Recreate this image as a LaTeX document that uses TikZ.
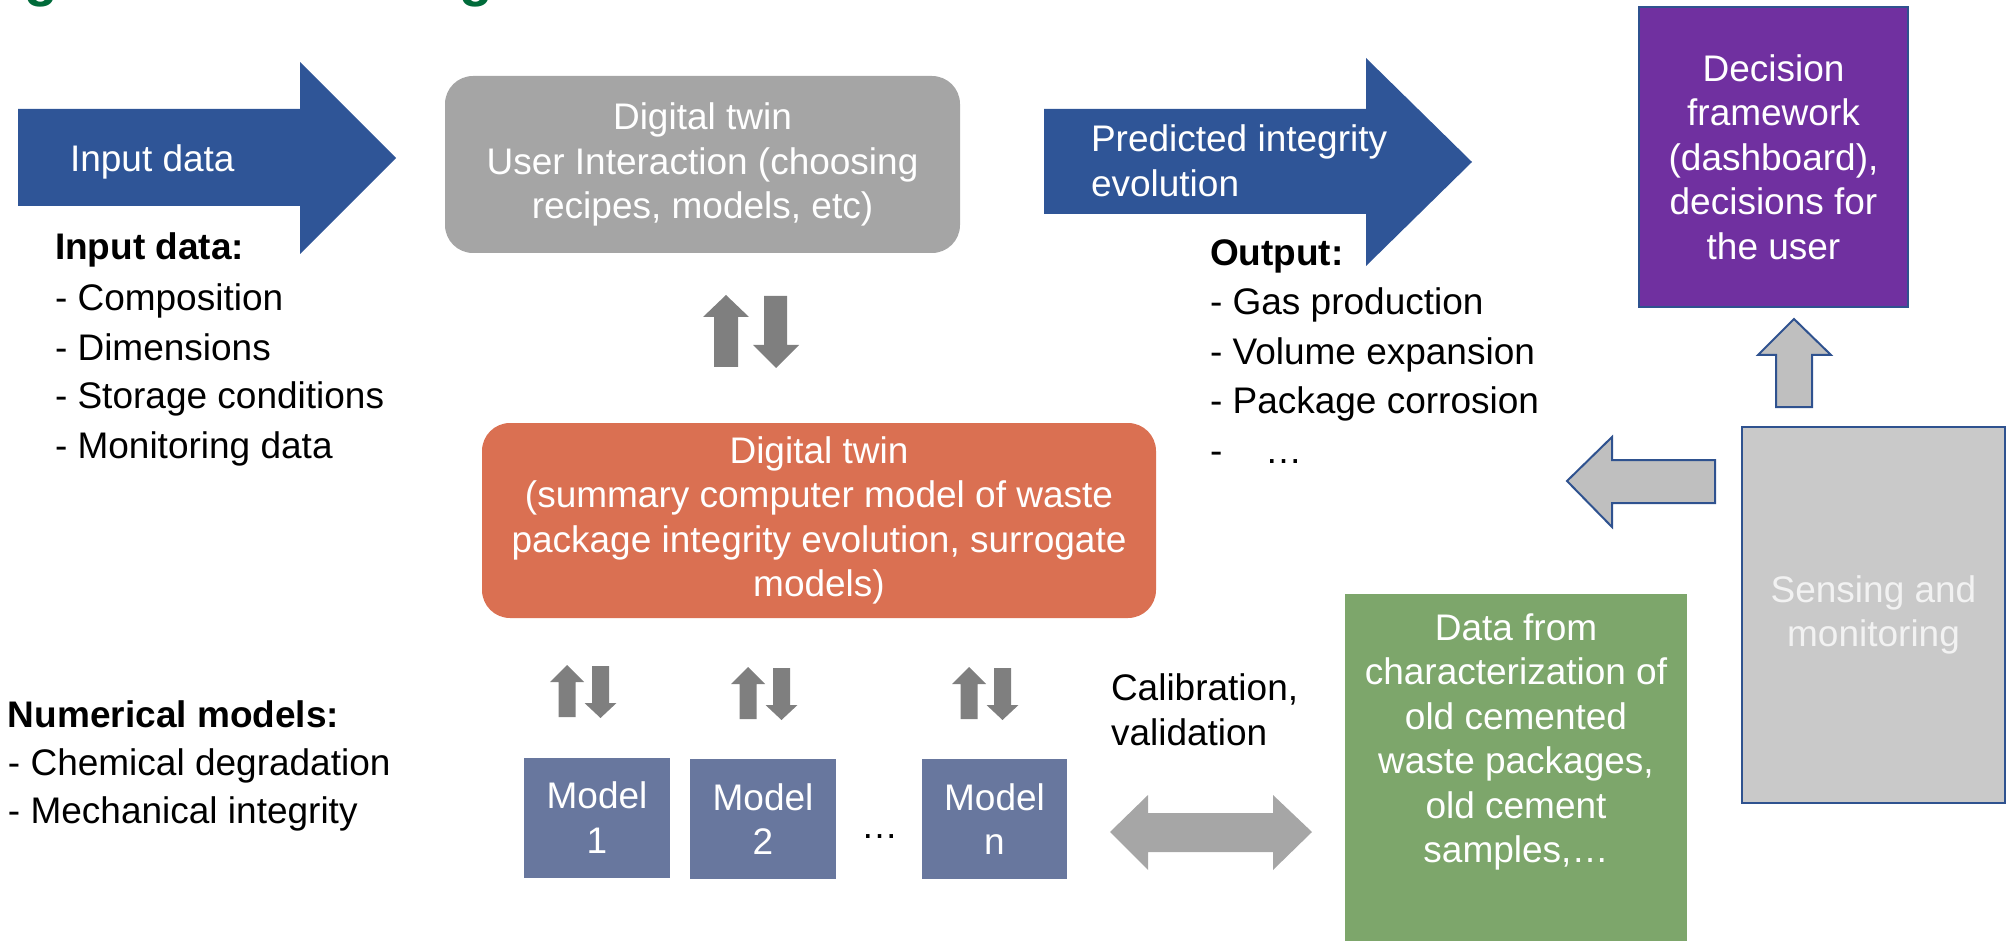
\documentclass[tikz,border=0pt]{standalone}
\usepackage{fontspec}
\setmainfont{Liberation Sans}
\definecolor{arrowblue}{HTML}{2F5597}
\definecolor{edgeblue}{HTML}{2F528F}
\definecolor{uigrey}{HTML}{A5A5A5}
\definecolor{darkgrey}{HTML}{7F7F7F}
\definecolor{twinorange}{HTML}{DA7052}
\definecolor{decpurple}{HTML}{7030A0}
\definecolor{lightgrey}{HTML}{BFBFBF}
\definecolor{sensegrey}{HTML}{C9C9C9}
\definecolor{modelblue}{HTML}{68779E}
\definecolor{dblgrey}{HTML}{A6A6A6}
\definecolor{datagreen}{HTML}{7DA66B}
\definecolor{titlegreen}{HTML}{006B3A}
\begin{document}
\begin{tikzpicture}[x=1pt,y=-1pt,
  every node/.style={inner sep=0pt, outer sep=0pt, font=\fontsize{37}{44.5}\selectfont},
  listline/.style={anchor=base west, text=black},
  boldline/.style={listline, font=\bfseries\fontsize{37}{44.5}\selectfont},
  boxtext/.style={align=center, text=white},
  bigarrow/.style={fill=arrowblue, draw=none},
  darkarrow/.style={fill=darkgrey, draw=none},
  outlinearrow/.style={fill=lightgrey, draw=edgeblue, line width=2pt, line join=miter},
  modelbox/.style={fill=modelblue, minimum width=146pt, minimum height=120pt, boxtext},
  updownpair/.pic={
    \fill[darkgrey] (-8.5,52) -- (-8.5,17) -- (-17,17) -- (0,0) -- (17,17) -- (8.5,17) -- (8.5,52) -- cycle;
    \fill[darkgrey] (25,1) -- (42,1) -- (42,38) -- (49.5,38) -- (33.5,53) -- (17.5,38) -- (25,38) -- cycle;
  }
]
\useasboundingbox (0,0) rectangle (2006,941);

% title fragments (clipped at the top edge, as in the reference)
\begin{scope}
\clip (0,0) rectangle (2006,941);
\node[anchor=base west, text=titlegreen, font=\bfseries\fontsize{55}{60}\selectfont] (tg1) at (24,-4.5) {g};
\node[anchor=base west, text=titlegreen, font=\bfseries\fontsize{55}{60}\selectfont] (tg2) at (459,-4.5) {g};
\end{scope}

% Input data arrow
\fill[bigarrow] (18,109) -- (300,109) -- (300,62) -- (396,158) -- (300,254) -- (300,206) -- (18,206) -- cycle;
\node[anchor=base west, text=white] (inlabel) at (70,172) {Input data};

% Input data list
\node[boldline] (in0) at (55,260) {Input data:};
\node[listline] (in1) at (55,311) {- Composition};
\node[listline] (in2) at (55,360) {- Dimensions};
\node[listline] (in3) at (55,408) {- Storage conditions};
\node[listline] (in4) at (55,458) {- Monitoring data};

% Digital twin user interaction box
\node[fill=uigrey, rounded corners=28pt, minimum width=515pt, minimum height=177pt, boxtext] (ui) at (702.5,164.5)
  {Digital twin\\User Interaction (choosing\\recipes, models, etc)};

% big up/down pair
\fill[darkarrow] (714,367) -- (714,317) -- (703,317) -- (726,295) -- (749,317) -- (738,317) -- (738,367) -- cycle;
\fill[darkarrow] (764,296) -- (787,296) -- (787,345) -- (799,345) -- (776,368) -- (753,345) -- (764,345) -- cycle;

% Digital twin model box
\node[fill=twinorange, rounded corners=28pt, minimum width=674pt, minimum height=195pt, boxtext] (twin) at (819,520.5)
  {Digital twin\\(summary computer model of waste\\package integrity evolution, surrogate\\models)};

% Predicted integrity arrow
\fill[bigarrow] (1044,109) -- (1366,109) -- (1366,58) -- (1472,162) -- (1366,266) -- (1366,214) -- (1044,214) -- cycle;
\node[anchor=base west, text=white] (pred1) at (1091,152) {Predicted integrity};
\node[anchor=base west, text=white] (pred2) at (1091,197) {evolution};

% Output list
\node[boldline] (out0) at (1210,266) {Output:};
\node[listline] (out1) at (1210,315) {- Gas production};
\node[listline] (out2) at (1210,364) {- Volume expansion};
\node[listline] (out3) at (1210,413) {- Package corrosion};
\node[listline] (out4) at (1210,463) {-};
\node[listline] (out4b) at (1265,463) {…};

% Decision framework
\node[fill=decpurple, draw=edgeblue, line width=1.5pt, minimum width=269pt, minimum height=300pt, boxtext] (dec) at (1773.5,157)
  {Decision\\framework\\(dashboard),\\decisions for\\the user};

% up arrow sensing -> decision
\draw[outlinearrow] (1776,407) -- (1776,355) -- (1758,355) -- (1794,319) -- (1831,355) -- (1812,355) -- (1812,407) -- cycle;

% Sensing and monitoring
\node[fill=sensegrey, draw=edgeblue, line width=2pt, minimum width=263pt, minimum height=376pt, align=center, text=white!95!black] (sense) at (1873.5,615)
  {Sensing and\\monitoring};

% left arrow sensing -> output
\draw[outlinearrow] (1715,460) -- (1612,460) -- (1612,437) -- (1567,481) -- (1612,527) -- (1612,503) -- (1715,503) -- cycle;

% small up/down pairs
\pic at (567,665) {updownpair};
\pic at (748,667) {updownpair};
\pic at (969,667) {updownpair};

% Numerical models list
\node[boldline] (num0) at (8,727) {Numerical models:};
\node[listline] (num1) at (8,775) {- Chemical degradation};
\node[listline] (num2) at (8,823) {- Mechanical integrity};

% Model boxes
\node[modelbox] (m1) at (597,817.5) {Model\\1};
\node[modelbox] (m2) at (763,819) {Model\\2};
\node[anchor=base west] (mdots) at (861,838) {…};
\node[modelbox, minimum width=145pt] (mn) at (994.5,819) {Model\\n};

% Calibration
\node[listline] (cal1) at (1111,700) {Calibration,};
\node[listline] (cal2) at (1111,745) {validation};

% double arrow
\fill[dblgrey] (1110,832) -- (1148,795) -- (1148,813) -- (1273,813) -- (1273,795) -- (1312,832) -- (1273,870) -- (1273,852) -- (1148,852) -- (1148,870) -- cycle;

% Data box
\node[fill=datagreen, minimum width=342pt, minimum height=352pt] (databox) at (1516,770) {};
\node[boxtext] (datatext) at (1516,742)
  {Data from\\characterization of\\old cemented\\waste packages,\\old cement\\samples,…};

\end{tikzpicture}
\end{document}
